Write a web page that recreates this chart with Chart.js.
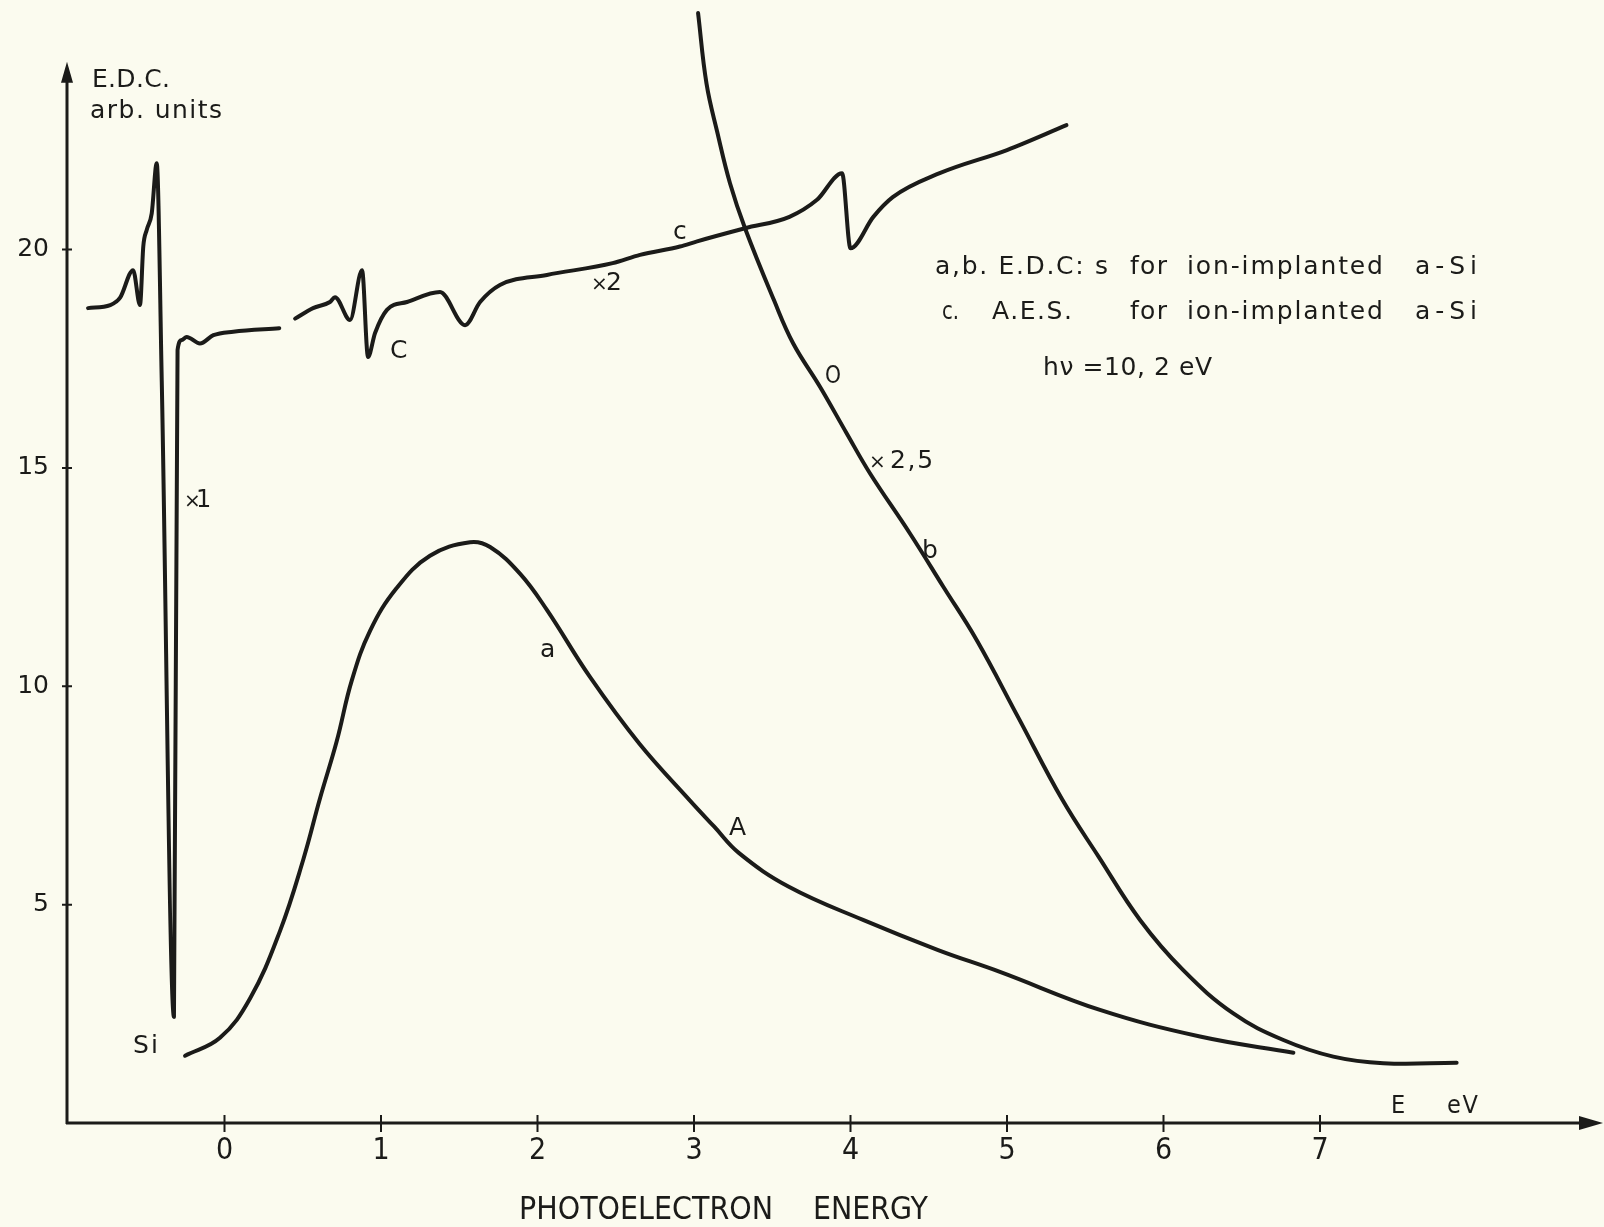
<!DOCTYPE html>
<html>
<head>
<meta charset="utf-8">
<script src="https://cdn.jsdelivr.net/npm/chart.js@4/dist/chart.umd.min.js"></script>
<style>
html,body{margin:0;padding:0;background:#fbfbef;}
canvas{display:block;}
</style>
</head>
<body>
<canvas id="c" width="1604" height="1227"></canvas>
<script>
// ---------- data ----------
const xTicks = [0, 1, 2, 3, 4, 5, 6, 7];
const yTicks = [5, 10, 15, 20];

// curve a : E.D.C. (a / A)
const aX = [-0.252, -0.029, 0.163, 0.355, 0.504, 0.61, 0.717, 0.813, 0.93, 1.10, 1.313, 1.569, 1.697, 1.888, 2.06, 2.334, 2.65, 2.97, 3.128, 3.288, 3.606, 4.08, 4.56, 4.955, 5.594, 6.233, 6.83];
const aY = [1.54, 1.95, 2.85, 4.40, 6.04, 7.43, 8.74, 10.13, 11.27, 12.25, 12.99, 13.30, 13.19, 12.58, 11.75, 10.22, 8.69, 7.40, 6.79, 6.18, 5.41, 4.65, 3.96, 3.46, 2.59, 1.98, 1.61];

// curve b : E.D.C. x2,5
const bX = [3.026, 3.08, 3.15, 3.23, 3.326, 3.51, 3.634, 3.805, 3.976, 4.124, 4.38, 4.593, 4.806, 5.07, 5.354, 5.585, 5.85, 6.126, 6.446, 6.766, 7.085, 7.405, 7.873];
const bY = [25.42, 23.8, 22.67, 21.52, 20.49, 18.85, 17.85, 16.86, 15.79, 14.88, 13.50, 12.28, 11.06, 9.30, 7.40, 6.10, 4.65, 3.50, 2.51, 1.90, 1.52, 1.37, 1.38];

// curve c : A.E.S. part x1 (Si)
const c1X = [-0.872, -0.73, -0.667, -0.584, -0.54, -0.519, -0.497, -0.465, -0.433, -0.401, -0.323, -0.30, -0.273, -0.242, -0.157, -0.071, 0.056, 0.35];
const c1Y = [18.66, 18.73, 18.9, 19.53, 18.73, 20.07, 20.45, 20.83, 21.98, 17.0, 2.43, 17.70, 17.93, 18.0, 17.85, 18.04, 18.12, 18.2];

// curve c : A.E.S. part x2 (C, O)
const c2X = [0.451, 0.566, 0.674, 0.706, 0.802, 0.879, 0.917, 0.962, 1.038, 1.166, 1.377, 1.537, 1.633, 1.76, 2.06, 2.48, 2.655, 2.91, 3.02, 3.326, 3.61, 3.786, 3.946, 4.0, 4.146, 4.27, 4.57, 5.0, 5.38];
const c2Y = [18.42, 18.66, 18.8, 18.91, 18.39, 19.53, 17.54, 18.09, 18.62, 18.80, 19.03, 18.27, 18.80, 19.19, 19.42, 19.69, 19.88, 20.07, 20.19, 20.49, 20.75, 21.14, 21.75, 20.03, 20.75, 21.2, 21.75, 22.28, 22.85];

// ---------- layout / style ----------
const X_MIN = -1.0064, X_MAX = 8.8147, Y_MAX = 25.716, Y_ARROW = 24.3;
const INK = '#1b1b19';
const BG = '#fbfbef';
const SANS = "'DejaVu Sans', 'Noto Sans', sans-serif";
const NARROW = "'Liberation Sans Narrow', 'DejaVu Sans Condensed', 'Liberation Sans', sans-serif";

// text labels: anchor in data units (left, baseline), optional target width px, size px
const notes = [
  {t:'E.D.C.', x:-0.847, y:23.72, w:78, s:25},
  {t:'arb. units', x:-0.859, y:23.01, w:132, s:25},
  {t:'×', x:-0.258, y:14.11, s:20},
  {t:'1', x:-0.182, y:14.11, s:24},
  {t:'Si', x:-0.585, y:1.60, w:25, s:25},
  {t:'C', x:1.058, y:17.52, s:25},
  {t:'×', x:2.342, y:19.07, s:20},
  {t:'2', x:2.438, y:19.07, s:25},
  {t:'c', x:2.866, y:20.24, s:25},
  {t:'O', x:3.837, y:16.95, w:16, s:25},
  {t:'×', x:4.119, y:15.00, s:20},
  {t:'2,5', x:4.253, y:15.00, w:43, s:25},
  {t:'b', x:4.457, y:12.94, s:25},
  {t:'a', x:2.016, y:10.67, s:25},
  {t:'A', x:3.224, y:6.59, s:25},
  {t:'a,b. E.D.C: s', x:4.540, y:19.44, w:173, s:25},
  {t:'for', x:5.786, y:19.44, w:37, s:25},
  {t:'ion-implanted', x:6.150, y:19.44, w:196, s:25},
  {t:'a-Si', x:7.607, y:19.44, w:62, s:25},
  {t:'c.', x:4.585, y:18.41, w:17, s:25},
  {t:'A.E.S.', x:4.904, y:18.41, w:80, s:25},
  {t:'for', x:5.786, y:18.41, w:37, s:25},
  {t:'ion-implanted', x:6.150, y:18.41, w:196, s:25},
  {t:'a-Si', x:7.607, y:18.41, w:62, s:25},
  {t:'hν =10, 2 eV', x:5.230, y:17.13, w:169, s:25},
  {t:'E', x:7.454, y:0.229, s:25, f:NARROW},
  {t:'eV', x:7.811, y:0.229, w:31, s:25, f:NARROW},
  {t:'PHOTOELECTRON', x:1.882, y:-2.198, w:254, s:32, f:NARROW},
  {t:'ENERGY', x:3.760, y:-2.198, w:115, s:32, f:NARROW}
];

const toPts = (xs, ys) => xs.map((x, i) => ({x: x, y: ys[i]}));

function drawNote(ctx, t, px, py, w, font) {
  ctx.font = font;
  ctx.letterSpacing = '0px';
  const m = ctx.measureText(t).width;
  ctx.save();
  ctx.translate(px, py);
  if (w && t.length > 1 && w > m) {
    ctx.letterSpacing = ((w - m) / (t.length - 1)).toFixed(2) + 'px';
  } else if (w && w < m) {
    ctx.scale(w / m, 1);
  }
  ctx.fillText(t, 0, 0);
  ctx.restore();
  ctx.letterSpacing = '0px';
}

const paperPlugin = {
  id: 'paper',
  beforeDraw(chart) {
    const ctx = chart.ctx;
    ctx.save();
    ctx.fillStyle = BG;
    ctx.fillRect(0, 0, chart.width, chart.height);
    ctx.restore();
  },
  beforeDatasetsDraw(chart) {
    const ctx = chart.ctx, xs = chart.scales.x, ys = chart.scales.y;
    const x0 = xs.getPixelForValue(X_MIN);
    const y0 = ys.getPixelForValue(0);
    const yTop = ys.getPixelForValue(Y_ARROW);
    const xEnd = xs.getPixelForValue(X_MAX) - 1;
    ctx.save();
    ctx.strokeStyle = INK; ctx.fillStyle = INK;
    ctx.lineWidth = 3;
    ctx.beginPath();
    ctx.moveTo(x0, y0 + 1); ctx.lineTo(x0, yTop + 15);
    ctx.moveTo(x0 - 1, y0); ctx.lineTo(xEnd - 15, y0);
    ctx.stroke();
    ctx.beginPath();
    ctx.moveTo(x0, yTop); ctx.lineTo(x0 - 6, yTop + 21); ctx.lineTo(x0 + 6, yTop + 21); ctx.closePath();
    ctx.fill();
    ctx.beginPath();
    ctx.moveTo(xEnd, y0); ctx.lineTo(xEnd - 24, y0 - 7); ctx.lineTo(xEnd - 24, y0 + 7); ctx.closePath();
    ctx.fill();
    ctx.lineWidth = 2;
    ctx.beginPath();
    xTicks.forEach(v => { const p = xs.getPixelForValue(v); ctx.moveTo(p, y0 - 8); ctx.lineTo(p, y0 + 9); });
    yTicks.forEach(v => { const p = ys.getPixelForValue(v); ctx.moveTo(x0 - 5, p); ctx.lineTo(x0 + 5, p); });
    ctx.stroke();
    ctx.restore();
  },
  afterDraw(chart) {
    const ctx = chart.ctx, xs = chart.scales.x, ys = chart.scales.y;
    ctx.save();
    ctx.fillStyle = INK;
    ctx.textAlign = 'left';
    ctx.textBaseline = 'alphabetic';
    notes.forEach(n => {
      drawNote(ctx, n.t, xs.getPixelForValue(n.x), ys.getPixelForValue(n.y), n.w, n.s + 'px ' + (n.f || SANS));
    });
    ctx.restore();
  }
};

const baseLine = {
  borderColor: INK, borderWidth: 4, pointRadius: 0, fill: false,
  borderCapStyle: 'round', borderJoinStyle: 'round'
};
const smooth = Object.assign({tension: 0.4, cubicInterpolationMode: 'default'}, baseLine);
const sharp = Object.assign({cubicInterpolationMode: 'monotone'}, baseLine);

new Chart(document.getElementById('c'), {
  type: 'line',
  data: {
    datasets: [
      Object.assign({label: 'a', data: toPts(aX, aY)}, smooth),
      Object.assign({label: 'b', data: toPts(bX, bY)}, smooth),
      Object.assign({label: 'c (x1)', data: toPts(c1X, c1Y)}, sharp),
      Object.assign({label: 'c (x2)', data: toPts(c2X, c2Y)}, sharp)
    ]
  },
  options: {
    responsive: false,
    animation: false,
    devicePixelRatio: 1,
    events: [],
    layout: {padding: 0},
    plugins: {legend: {display: false}, tooltip: {enabled: false}},
    scales: {
      x: {
        type: 'linear', min: X_MIN, max: X_MAX,
        grid: {display: false, drawTicks: false}, border: {display: false},
        afterBuildTicks: s => { s.ticks = xTicks.map(v => ({value: v})); },
        ticks: {autoSkip: false, maxRotation: 0, padding: 10, color: INK,
                font: {family: NARROW, size: 30}, callback: v => String(v)},
        afterFit: s => { s.height = 104; s.paddingLeft = 0; s.paddingRight = 0; }
      },
      y: {
        type: 'linear', min: 0, max: Y_MAX,
        grid: {display: false, drawTicks: false}, border: {display: false},
        afterBuildTicks: s => { s.ticks = yTicks.map(v => ({value: v})); },
        ticks: {autoSkip: false, padding: 18, color: INK,
                font: {family: SANS, size: 25}, callback: v => String(v)},
        afterFit: s => { s.width = 67; s.paddingTop = 0; s.paddingBottom = 0; }
      }
    }
  },
  plugins: [paperPlugin]
});
</script>
</body>
</html>
